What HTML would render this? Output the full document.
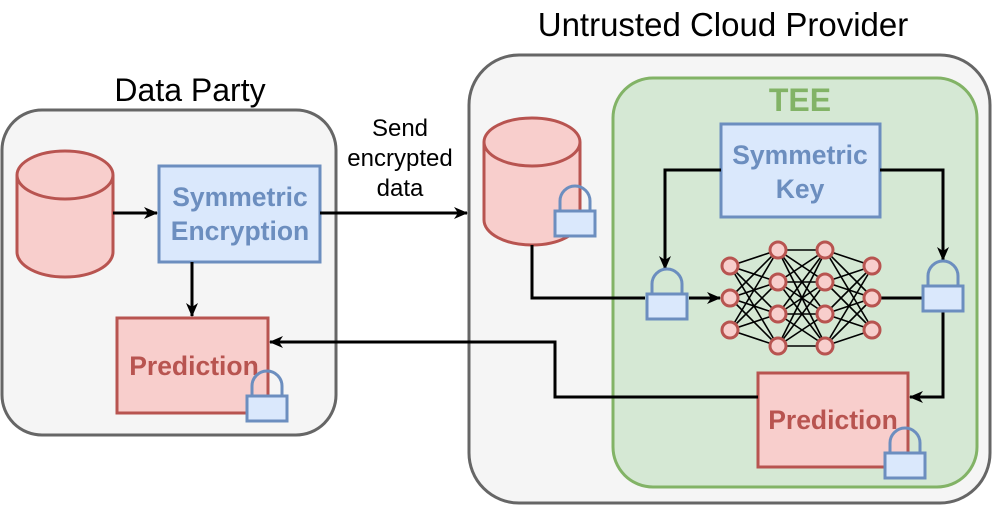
<!DOCTYPE html>
<html><head><meta charset="utf-8"><style>body{margin:0;background:#fff}svg{display:block}</style></head><body>
<svg width="996" height="508" viewBox="0 0 996 508" xmlns="http://www.w3.org/2000/svg" font-family="Liberation Sans, sans-serif">
<defs><marker id="a" markerWidth="14" markerHeight="14" refX="13" refY="7" orient="auto" markerUnits="userSpaceOnUse"><path d="M0,1 L14,7 L0,13 L4,7 z" fill="#000"/></marker>
<g id="lock"><path d="M5,24 V14 A15,15 0 0 1 35,14 V24" fill="none" stroke="#6c8ebf" stroke-width="3"/><rect x="0" y="24" width="40" height="25" fill="#dae8fc" stroke="#6c8ebf" stroke-width="3"/></g>
</defs>
<text x="190" y="101" font-size="32" text-anchor="middle">Data Party</text>
<text x="723" y="36" font-size="33" text-anchor="middle">Untrusted Cloud Provider</text>
<rect x="2" y="110" width="334" height="325" rx="40" fill="#f5f5f5" stroke="#666" stroke-width="3"/>
<rect x="469" y="55" width="521" height="448" rx="50" fill="#f5f5f5" stroke="#666" stroke-width="3"/>
<rect x="613" y="78" width="364" height="409" rx="40" fill="#d5e8d4" stroke="#82b366" stroke-width="3"/>
<text x="800" y="111" font-size="32" font-weight="bold" fill="#82b366" text-anchor="middle">TEE</text>
<g fill="#f8cecc" stroke="#b85450" stroke-width="3">
<path d="M17,175 V252 A48,25 0 0 0 113,252 V175"/><ellipse cx="65" cy="175" rx="48" ry="24"/>
<path d="M484,142 V220 A48,25 0 0 0 580,220 V142"/><ellipse cx="532" cy="142" rx="48" ry="24"/>
</g>
<rect x="159" y="166" width="161" height="96" fill="#dae8fc" stroke="#6c8ebf" stroke-width="3"/>
<text x="240" y="206" font-size="26.5" font-weight="bold" fill="#6c8ebf" text-anchor="middle">Symmetric</text>
<text x="240" y="240" font-size="26.5" font-weight="bold" fill="#6c8ebf" text-anchor="middle">Encryption</text>
<rect x="117" y="318" width="151" height="95" fill="#f8cecc" stroke="#b85450" stroke-width="3"/>
<text x="194" y="375" font-size="26.5" font-weight="bold" fill="#b85450" text-anchor="middle">Prediction</text>
<rect x="721" y="124" width="159" height="93" fill="#dae8fc" stroke="#6c8ebf" stroke-width="3"/>
<text x="800" y="164" font-size="26.5" font-weight="bold" fill="#6c8ebf" text-anchor="middle">Symmetric</text>
<text x="800" y="198" font-size="26.5" font-weight="bold" fill="#6c8ebf" text-anchor="middle">Key</text>
<rect x="758" y="373" width="150" height="94" fill="#f8cecc" stroke="#b85450" stroke-width="3"/>
<text x="833" y="429" font-size="26.5" font-weight="bold" fill="#b85450" text-anchor="middle">Prediction</text>
<text x="400" y="136" font-size="24" text-anchor="middle">Send</text>
<text x="400" y="166" font-size="24" text-anchor="middle">encrypted</text>
<text x="400" y="196" font-size="24" text-anchor="middle">data</text>
<g stroke="#000" stroke-width="3" fill="none">
<line x1="113" y1="213" x2="157" y2="213" marker-end="url(#a)"/>
<line x1="192" y1="262" x2="192" y2="316" marker-end="url(#a)"/>
<line x1="320" y1="213" x2="467" y2="213" marker-end="url(#a)"/>
<polyline points="532,245 532,298 645,298"/>
<line x1="689" y1="298" x2="720" y2="298" marker-end="url(#a)"/>
<polyline points="721,170 665,170 665,269" marker-end="url(#a)"/>
<polyline points="880,170 943,170 943,260" marker-end="url(#a)"/>
<line x1="881" y1="298" x2="923" y2="298"/>
<polyline points="943,311 943,397 910,397" marker-end="url(#a)"/>
<polyline points="758,397 555,397 555,342 270,342" marker-end="url(#a)"/>
</g>
<g stroke="#000" stroke-width="1.6">
<g id="e">
<line x1="730" y1="266" x2="778" y2="250"/><line x1="730" y1="266" x2="778" y2="282"/><line x1="730" y1="266" x2="778" y2="314"/><line x1="730" y1="266" x2="778" y2="346"/>
<line x1="730" y1="298" x2="778" y2="250"/><line x1="730" y1="298" x2="778" y2="282"/><line x1="730" y1="298" x2="778" y2="314"/><line x1="730" y1="298" x2="778" y2="346"/>
<line x1="730" y1="330" x2="778" y2="250"/><line x1="730" y1="330" x2="778" y2="282"/><line x1="730" y1="330" x2="778" y2="314"/><line x1="730" y1="330" x2="778" y2="346"/>
</g>
<g transform="translate(1603,0) scale(-1,1)"><use href="#e"/></g>
<line x1="778" y1="250" x2="826" y2="250"/><line x1="778" y1="250" x2="826" y2="282"/><line x1="778" y1="250" x2="826" y2="314"/><line x1="778" y1="250" x2="826" y2="346"/>
<line x1="778" y1="282" x2="826" y2="250"/><line x1="778" y1="282" x2="826" y2="282"/><line x1="778" y1="282" x2="826" y2="314"/><line x1="778" y1="282" x2="826" y2="346"/>
<line x1="778" y1="314" x2="826" y2="250"/><line x1="778" y1="314" x2="826" y2="282"/><line x1="778" y1="314" x2="826" y2="314"/><line x1="778" y1="314" x2="826" y2="346"/>
<line x1="778" y1="346" x2="826" y2="250"/><line x1="778" y1="346" x2="826" y2="282"/><line x1="778" y1="346" x2="826" y2="314"/><line x1="778" y1="346" x2="826" y2="346"/>
</g>
<g fill="#f8cecc" stroke="#b85450" stroke-width="3">
<circle cx="730" cy="266" r="8"/><circle cx="730" cy="298" r="8"/><circle cx="730" cy="330" r="8"/>
<circle cx="778" cy="250" r="8"/><circle cx="778" cy="282" r="8"/><circle cx="778" cy="314" r="8"/><circle cx="778" cy="346" r="8"/>
<circle cx="825" cy="250" r="8"/><circle cx="825" cy="282" r="8"/><circle cx="825" cy="314" r="8"/><circle cx="825" cy="346" r="8"/>
<circle cx="872" cy="266" r="8"/><circle cx="872" cy="298" r="8"/><circle cx="872" cy="330" r="8"/>
</g>
<use href="#lock" x="247" y="372"/>
<use href="#lock" x="555" y="187"/>
<use href="#lock" x="647" y="270"/>
<use href="#lock" x="923" y="262"/>
<use href="#lock" x="885" y="429"/>
</svg>
</body></html>
